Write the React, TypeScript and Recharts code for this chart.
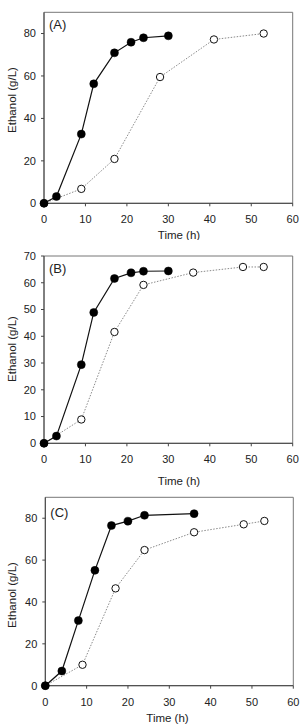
import React from 'react';
import { LineChart, Line, XAxis, YAxis, Label, ReferenceArea } from 'recharts';

// Fermentation time (h) and ethanol concentration (g/L) for each panel
const timeFilledA = [0, 3, 9, 12, 17, 21, 24, 30];
const ethanolFilledA = [0, 3.2, 32.6, 56.3, 70.9, 75.9, 78, 78.9];
const timeOpenA = [0, 9, 17, 28, 41, 53];
const ethanolOpenA = [0, 6.8, 20.9, 59.5, 77.2, 80];

const timeFilledB = [0, 3, 9, 12, 17, 21, 24, 30];
const ethanolFilledB = [0, 2.7, 29.4, 48.9, 61.6, 63.7, 64.3, 64.4];
const timeOpenB = [0, 9, 17, 24, 36, 48, 53];
const ethanolOpenB = [0, 8.9, 41.6, 59.2, 63.8, 65.9, 65.9];

const timeFilledC = [0, 4, 8, 12, 16, 20, 24, 36];
const ethanolFilledC = [0, 7, 31.1, 55.1, 76.5, 78.6, 81.4, 82.2];
const timeOpenC = [0, 9, 17, 24, 36, 48, 53];
const ethanolOpenC = [0, 10, 46.5, 64.8, 73.3, 77.1, 78.7];

const xTicks = [0, 10, 20, 30, 40, 50, 60];
const yTicks90 = [0, 20, 40, 60, 80];
const yTicks70 = [0, 10, 20, 30, 40, 50, 60, 70];

const FONT = '"Liberation Sans", Arial, Helvetica, sans-serif';
const TEXT = '#222';
const AXIS = '#444';
const FRAME = '#777';

const zip = (t: number[], v: number[]) => t.map((time, i) => ({ time, ethanol: v[i] }));

type PanelProps = {
  tag: string;
  top: number;
  height: number;
  margin: { top: number; right: number; bottom: number; left: number };
  yMax: number;
  yTicks: number[];
  filled: { time: number; ethanol: number }[];
  open: { time: number; ethanol: number }[];
  xTitle: { x: number; y: number };
  yTitleY: number;
  tagOffset: number;
};

const Panel = (p: PanelProps) => {
  const tickStyle = { fontSize: 11, fill: TEXT, fontFamily: FONT };
  return (
    <div style={{ position: 'absolute', left: 0, top: p.top, width: 304, height: p.height }}>
      <LineChart width={304} height={p.height} margin={p.margin}>
        <XAxis
          type="number"
          dataKey="time"
          domain={[0, 60]}
          ticks={xTicks}
          stroke={AXIS}
          tickSize={3}
          tickMargin={9}
          tick={tickStyle}
          height={30}
          allowDuplicatedCategory={false}
        >
          <Label
            content={() => (
              <text
                x={p.xTitle.x}
                y={p.xTitle.y - p.top}
                textAnchor="middle"
                dominantBaseline="central"
                fontSize={11.5}
                fill={TEXT}
                fontFamily={FONT}
              >
                Time (h)
              </text>
            )}
          />
        </XAxis>
        <YAxis
          type="number"
          domain={[0, p.yMax]}
          ticks={p.yTicks}
          stroke={AXIS}
          tickSize={3}
          tickMargin={5}
          tick={tickStyle}
          width={44}
        >
          <Label
            content={() => (
              <text
                x={12}
                y={p.yTitleY - p.top}
                transform={`rotate(-90 12 ${p.yTitleY - p.top})`}
                textAnchor="middle"
                dominantBaseline="central"
                fontSize={11.5}
                fill={TEXT}
                fontFamily={FONT}
              >
                Ethanol (g/L)
              </text>
            )}
          />
        </YAxis>
        {/* plot frame with the panel tag in its upper-left corner */}
        <ReferenceArea
          x1={0}
          x2={60}
          y1={0}
          y2={p.yMax}
          fill="none"
          fillOpacity={0}
          stroke={FRAME}
          strokeWidth={1}
          ifOverflow="visible"
        >
          <Label
            content={(props: any) => {
              const vb = props.viewBox || { x: 44, y: 12 };
              return (
                <text
                  x={vb.x + 5}
                  y={vb.y + p.tagOffset}
                  dominantBaseline="central"
                  fontSize={13}
                  fill={TEXT}
                  fontFamily={FONT}
                >
                  {p.tag}
                </text>
              );
            }}
          />
        </ReferenceArea>
        <Line
          data={p.open}
          dataKey="ethanol"
          stroke="#8a8a8a"
          strokeWidth={1}
          strokeDasharray="1.5 1.5"
          dot={{ r: 3.7, fill: '#fff', stroke: '#111', strokeWidth: 1, strokeDasharray: '' }}
          isAnimationActive={false}
        />
        <Line
          data={p.filled}
          dataKey="ethanol"
          stroke="#111"
          strokeWidth={1.2}
          dot={{ r: 4, fill: '#000', stroke: '#000', strokeWidth: 0.5 }}
          isAnimationActive={false}
        />
      </LineChart>
    </div>
  );
};

export default function App() {
  return (
    <div style={{ position: 'absolute', left: 0, top: 0, width: 304, height: 725, background: '#fff' }}>
      <Panel
        tag="(A)"
        top={0}
        height={240}
        margin={{ top: 12.3, right: 11.3, bottom: 6.7, left: 0 }}
        yMax={90}
        yTicks={yTicks90}
        filled={zip(timeFilledA, ethanolFilledA)}
        open={zip(timeOpenA, ethanolOpenA)}
        xTitle={{ x: 179, y: 235 }}
        yTitleY={100}
        tagOffset={12}
      />
      <Panel
        tag="(B)"
        top={244}
        height={244}
        margin={{ top: 12, right: 11.3, bottom: 14.7, left: 0 }}
        yMax={70}
        yTicks={yTicks70}
        filled={zip(timeFilledB, ethanolFilledB)}
        open={zip(timeOpenB, ethanolOpenB)}
        xTitle={{ x: 179, y: 480.7 }}
        yTitleY={349}
        tagOffset={12}
      />
      <Panel
        tag="(C)"
        top={485}
        height={240}
        margin={{ top: 12.3, right: 10.7, bottom: 9.3, left: 1.3 }}
        yMax={90}
        yTicks={yTicks90}
        filled={zip(timeFilledC, ethanolFilledC)}
        open={zip(timeOpenC, ethanolOpenC)}
        xTitle={{ x: 167.5, y: 717.5 }}
        yTitleY={595}
        tagOffset={15}
      />
    </div>
  );
}
